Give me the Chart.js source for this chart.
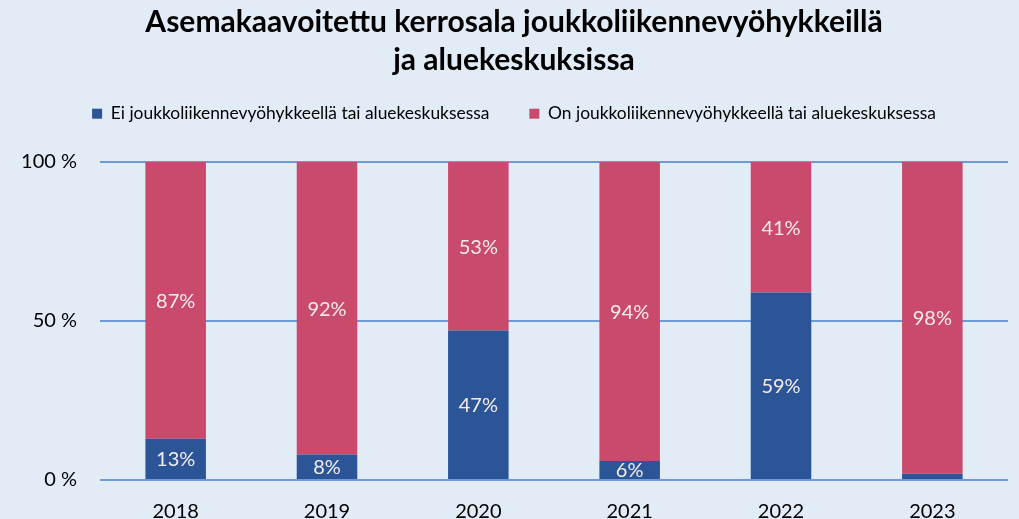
<!DOCTYPE html>
<html>
<head>
<meta charset="utf-8">
<script src="https://cdn.jsdelivr.net/npm/chart.js@4.4.1/dist/chart.umd.min.js"></script>
<style>
html,body{margin:0;padding:0;background:#e2ecf7;}
#wrap{position:relative;width:1019px;height:519px;}
</style>
</head>
<body>
<div id="wrap"><canvas id="c" width="1019" height="519"></canvas></div>
<script>
const categories = ['2018', '2019', '2020', '2021', '2022', '2023'];
const seriesNames = ['Ei joukkoliikennevyöhykkeellä tai aluekeskuksessa', 'On joukkoliikennevyöhykkeellä tai aluekeskuksessa'];
const eiValues = [13, 8, 47, 6, 59, 2];
const onValues = [87, 92, 53, 94, 41, 98];
const yTicks = [0, 50, 100];
const titleLines = ['Asemakaavoitettu kerrosala joukkoliikennevyöhykkeillä', 'ja aluekeskuksissa'];

const FONT = 'Lato';

const labelPlugin = {
  id: 'segLabels',
  afterDatasetsDraw(chart) {
    const ctx = chart.ctx;
    ctx.save();
    ctx.font = '20px ' + FONT;
    ctx.fillStyle = '#f4ecec';
    ctx.textAlign = 'center';
    ctx.textBaseline = 'middle';
    chart.data.datasets.forEach((ds, di) => {
      const meta = chart.getDatasetMeta(di);
      meta.data.forEach((el, i) => {
        const v = ds.data[i];
        if (v < 5) return;
        const p = el.getProps(['x', 'y', 'base'], true);
        ctx.fillText(v + '%', p.x, (p.y + p.base) / 2 + 1);
      });
    });
    ctx.restore();
  }
};

// add space between legend and plot area
const legendGap = {
  id: 'legendGap',
  beforeInit(chart) {
    const lg = chart.legend;
    if (!lg) return;
    const fit = lg.fit;
    lg.fit = function () {
      fit.call(this);
      this.height += 29.6;
    };
  }
};

const chart = new Chart(document.getElementById('c'), {
  type: 'bar',
  data: {
    labels: categories,
    datasets: [
      { label: seriesNames[0], data: eiValues, backgroundColor: '#2b5597', categoryPercentage: 1, barPercentage: 0.4 },
      { label: seriesNames[1], data: onValues, backgroundColor: '#c94a6b', categoryPercentage: 1, barPercentage: 0.4 }
    ]
  },
  options: {
    responsive: false,
    animation: false,
    layout: { padding: { left: 20, right: 11, top: 0, bottom: 0 } },
    plugins: {
      title: {
        display: true,
        text: titleLines,
        color: '#000',
        font: { family: FONT, size: 30, weight: 'bold', lineHeight: 38 / 30 },
        padding: { top: 3, bottom: -14 }
      },
      legend: {
        display: true,
        position: 'top',
        labels: {
          color: '#000',
          font: { family: FONT, size: 17.4 },
          boxWidth: 10,
          boxHeight: 10,
          padding: 40
        }
      },
      tooltip: { enabled: false }
    },
    scales: {
      x: {
        stacked: true,
        grid: { display: false, drawTicks: false },
        border: { display: false },
        ticks: { color: '#000', font: { family: FONT, size: 20 }, padding: 20 },
        afterFit(s) { s.height = 39; }
      },
      y: {
        stacked: true,
        min: 0,
        max: 100,
        grid: { color: '#6f9ad9', lineWidth: 2, drawTicks: false },
        border: { display: false },
        afterBuildTicks(s) { s.ticks = yTicks.map(v => ({ value: v })); },
        ticks: { color: '#000', font: { family: FONT, size: 20 }, padding: 23, callback: v => v + ' %' },
        afterFit(s) { s.width = 80; }
      }
    }
  },
  plugins: [labelPlugin, legendGap]
});
</script>
</body>
</html>
